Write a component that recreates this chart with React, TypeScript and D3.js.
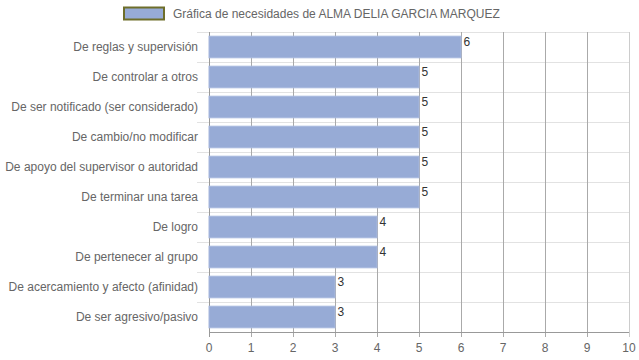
import React from "react";
import * as d3 from "d3";

const categories = [
  "De reglas y supervisión",
  "De controlar a otros",
  "De ser notificado (ser considerado)",
  "De cambio/no modificar",
  "De apoyo del supervisor o autoridad",
  "De terminar una tarea",
  "De logro",
  "De pertenecer al grupo",
  "De acercamiento y afecto (afinidad)",
  "De ser agresivo/pasivo",
];
const values = [6, 5, 5, 5, 5, 5, 4, 4, 3, 3];
const xTicks = [0, 1, 2, 3, 4, 5, 6, 7, 8, 9, 10];
const legendLabel = "Gráfica de necesidades de ALMA DELIA GARCIA MARQUEZ";

const W = 639;
const H = 360;
const left = 209;
const right = 629;
const top = 32;
const bottom = 332;

export default function App() {
  const x = d3.scaleLinear().domain([0, 10]).range([left, right]);
  const y = d3.scaleBand<string>().domain(categories).range([top, bottom]);
  const bw = y.bandwidth() * 0.72;
  const font = "Arial, 'Liberation Sans', sans-serif";
  return (
    <svg
      width={W}
      height={H}
      style={{ position: "absolute", left: 0, top: 0, background: "#fff" }}
    >
      {/* legend */}
      <rect x={124} y={7.5} width={40} height={12} fill="#97abd6" stroke="#6e6e2a" strokeWidth={2} />
      <text x={173} y={18} fontFamily={font} fontSize={12} fill="#666">
        {legendLabel}
      </text>
      {/* horizontal gridlines */}
      {categories.map((c, i) => (
        <line
          key={"h" + i}
          x1={197}
          x2={right}
          y1={Math.round(y(c)!) + 0.5}
          y2={Math.round(y(c)!) + 0.5}
          stroke="#e2e2e2"
        />
      ))}
      {/* vertical gridlines */}
      {xTicks.map((t) => (
        <line
          key={"v" + t}
          x1={Math.round(x(t)) + 0.5}
          x2={Math.round(x(t)) + 0.5}
          y1={top}
          y2={bottom + 5}
          stroke={t === 0 ? "#999" : t === 10 ? "#ccc" : "#aaa"}
        />
      ))}
      {/* bars */}
      {categories.map((c, i) => {
        const yc = y(c)! + y.bandwidth() / 2;
        return (
          <g key={"b" + i}>
            <rect
              x={x(0)}
              y={yc - bw / 2}
              width={x(values[i]) - x(0)}
              height={bw}
              fill="#97abd6"
              stroke="#a7b8de"
              strokeWidth={1}
            />
            <text
              x={x(values[i]) + 2.5}
              y={yc - bw / 2 + 10}
              fontFamily={font}
              fontSize={12}
              fill="#333"
            >
              {values[i]}
            </text>
          </g>
        );
      })}
      {/* bottom axis */}
      <line x1={left} x2={right} y1={bottom + 0.5} y2={bottom + 0.5} stroke="#999" />
      {xTicks.map((t) => (
        <text
          key={"t" + t}
          x={x(t)}
          y={352}
          textAnchor="middle"
          fontFamily={font}
          fontSize={12}
          fill="#666"
        >
          {t}
        </text>
      ))}
      {/* category labels */}
      {categories.map((c, i) => (
        <text
          key={"c" + i}
          x={198}
          y={y(c)! + y.bandwidth() / 2 + 4}
          textAnchor="end"
          fontFamily={font}
          fontSize={12}
          fill="#666"
        >
          {c}
        </text>
      ))}
    </svg>
  );
}
